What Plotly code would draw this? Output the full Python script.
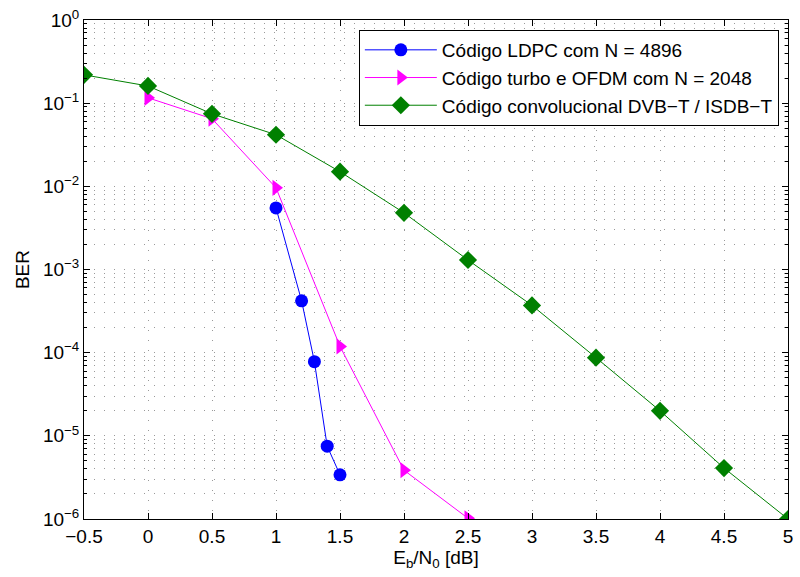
import plotly.graph_objects as go

ldpc_x = [1.0, 1.2, 1.3, 1.4, 1.5]
ldpc_y = [5.5e-3, 4.2e-4, 7.8e-5, 7.5e-6, 3.4e-6]

turbo_x = [0.0, 0.5, 1.0, 1.5, 2.0, 2.5]
turbo_y = [0.116, 0.065, 9.6e-3, 1.19e-4, 3.86e-6, 1.02e-6]

conv_x = [-0.5, 0.0, 0.5, 1.0, 1.5, 2.0, 2.5, 3.0, 3.5, 4.0, 4.5, 5.0]
conv_y = [0.219, 0.161, 0.0744, 0.0417, 0.015, 4.8e-3, 1.3e-3, 3.7e-4, 8.7e-5, 2.0e-5, 4.1e-6, 1.0e-6]

x_ticks = [-0.5, 0, 0.5, 1, 1.5, 2, 2.5, 3, 3.5, 4, 4.5, 5]
x_labels = ["\u22120.5", "0", "0.5", "1", "1.5", "2", "2.5", "3", "3.5", "4", "4.5", "5"]
y_ticks = [1e-6, 1e-5, 1e-4, 1e-3, 1e-2, 1e-1, 1e0]
y_labels = ["10<sup>\u22126</sup>", "10<sup>\u22125</sup>", "10<sup>\u22124</sup>", "10<sup>\u22123</sup>",
            "10<sup>\u22122</sup>", "10<sup>\u22121</sup>", "10<sup>0</sup>"]
y_minor = [m * 10.0 ** e for e in range(-6, 0) for m in range(2, 10)]

names = ["Código LDPC com N = 4896", "Código turbo e OFDM com N = 2048",
         "Código convolucional DVB\u2212T / ISDB\u2212T"]

fig = go.Figure()
fig.add_trace(go.Scatter(x=ldpc_x, y=ldpc_y, mode="lines+markers", name=names[0],
                         line=dict(color="#0000ff", width=1),
                         marker=dict(symbol="circle", size=13, color="#0000ff")))
fig.add_trace(go.Scatter(x=turbo_x, y=turbo_y, mode="lines+markers", name=names[1],
                         line=dict(color="#ff00ff", width=1),
                         marker=dict(symbol="triangle-right", size=14, color="#ff00ff")))
fig.add_trace(go.Scatter(x=conv_x, y=conv_y, mode="lines+markers", name=names[2],
                         line=dict(color="#008000", width=1),
                         marker=dict(symbol="diamond", size=14, color="#008000")))

GRIDC = "#9a9a9a"
DASH = "1px,9px"
grid = dict(showgrid=True, gridcolor=GRIDC, griddash=DASH, gridwidth=1)

fig.update_xaxes(range=[-0.5, 5], tickmode="array", tickvals=x_ticks, ticktext=x_labels,
                 ticks="inside", ticklen=6, tickcolor="black", showline=True, linecolor="black",
                 linewidth=1, mirror="ticks", zeroline=False, tickfont=dict(size=19),
                 title=dict(text="E<sub>b</sub>/N<sub>0</sub> [dB]", standoff=2, font=dict(size=19)),
                 **grid)
fig.update_yaxes(type="log", range=[-6, 0], tickmode="array", tickvals=y_ticks, ticktext=y_labels,
                 ticks="inside", ticklen=6, tickcolor="black", showline=True, linecolor="black",
                 linewidth=1, mirror="ticks", zeroline=False, tickfont=dict(size=19),
                 minor=dict(tickmode="array", tickvals=y_minor, ticks="inside", ticklen=3,
                            tickcolor="black", showgrid=True, gridcolor=GRIDC,
                            griddash=DASH, gridwidth=1),
                 title=dict(text="BER", standoff=8, font=dict(size=19)), **grid)

fig.update_layout(
    width=800, height=577,
    margin=dict(l=84, r=7, t=19, b=58),
    paper_bgcolor="white", plot_bgcolor="white",
    font=dict(family="Liberation Sans, Arial, sans-serif", size=19, color="black"),
    legend=dict(x=0.987, y=0.98, xanchor="right", yanchor="top",
                bgcolor="white", bordercolor="black", borderwidth=1,
                font=dict(size=19), tracegroupgap=0, itemwidth=72),
    showlegend=True,
)

fig.write_html("out.html")
